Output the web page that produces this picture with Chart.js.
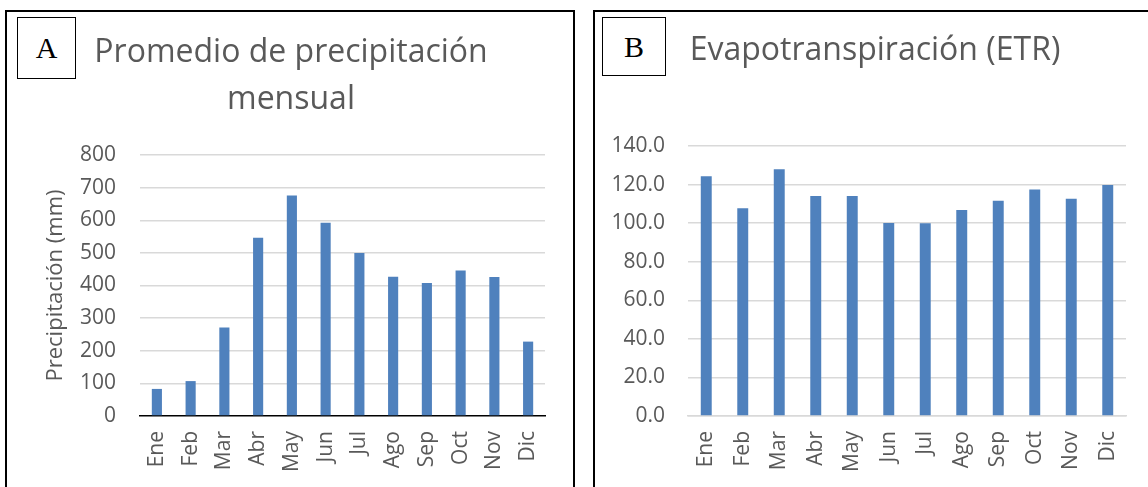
<!DOCTYPE html>
<html lang="es">
<head>
  <meta charset="UTF-8">
  <title>Precipitación y ETR</title>
  <script src="https://cdn.jsdelivr.net/npm/chart.js"></script>
  <style>
    html, body { margin: 0; padding: 0; background: #fff; overflow: hidden; }
    body { width: 1148px; height: 487px; position: relative; }
    .panel { position: absolute; top: 10px; height: 600px; border: 2px solid #000; box-sizing: border-box; }
    #panelA { left: 5px; width: 570px; }
    #panelB { left: 593px; width: 620px; }
    .tag {
      position: absolute; top: 17px; height: 62px; border: 1px solid #000; box-sizing: border-box;
      font-family: "Liberation Serif", serif; font-size: 30px; color: #000;
      display: flex; align-items: center; justify-content: center; background: #fff; z-index: 2;
    }
    #tagA { left: 17px; width: 59px; }
    #tagB { left: 602px; width: 64px; height: 59px; }
    canvas { position: absolute; top: 0; }
    #chartA { left: 6px; }
    #chartB { left: 594px; }
  </style>
</head>
<body>
  <div class="panel" id="panelA"></div>
  <div class="panel" id="panelB"></div>
  <div class="tag" id="tagA">A</div>
  <div class="tag" id="tagB">B</div>
  <canvas id="chartA" width="570" height="487" style="width:570px;height:487px"></canvas>
  <canvas id="chartB" width="562" height="487" style="width:562px;height:487px"></canvas>

  <script>
    const meses = ["Ene", "Feb", "Mar", "Abr", "May", "Jun", "Jul", "Ago", "Sep", "Oct", "Nov", "Dic"];
    const precipitacion = [83, 107, 271, 546, 676, 592, 500, 427, 408, 446, 426, 228];
    const etr = [124.3, 107.7, 127.9, 114.1, 114.1, 100.1, 99.9, 106.8, 111.6, 117.5, 112.7, 119.8];

    const gris = "#595959";
    const azul = "#4f81bd";
    const fuente = "'Open Sans', sans-serif";

    function xScale(borderColor) {
      return {
        grid: { display: false, drawTicks: false },
        border: { display: true, color: borderColor, width: 1.5 },
        ticks: {
          color: gris, font: { family: fuente, size: 21 },
          minRotation: 90, maxRotation: 90, autoSkip: false, padding: 15
        },
        afterFit: s => { s.height = 71; }
      };
    }

    // panel A
    new Chart(document.getElementById("chartA"), {
      type: "bar",
      data: {
        labels: meses,
        datasets: [{ data: precipitacion, backgroundColor: azul, barPercentage: 0.3, categoryPercentage: 1 }]
      },
      options: {
        responsive: false,
        animation: false,
        layout: { padding: { left: 31, right: 31, top: 0, bottom: 0 } },
        plugins: {
          legend: { display: false },
          tooltip: { enabled: false },
          title: {
            display: true,
            text: ["Promedio de precipitación", "mensual"],
            color: gris,
            font: { family: fuente, size: 32, weight: "normal", lineHeight: 47 / 32 },
            padding: { top: 29, bottom: 32 }
          }
        },
        scales: {
          x: xScale("#000"),
          y: {
            min: 0, max: 800,
            grid: {
              drawTicks: false, lineWidth: 1.5,
              color: c => c.tick && c.tick.value === 0 ? "rgba(0,0,0,0)" : "#d9d9d9"
            },
            border: { display: false },
            ticks: { stepSize: 100, color: gris, font: { family: fuente, size: 21 }, padding: 24 },
            title: {
              display: true, text: "Precipitación (mm)", color: gris,
              font: { family: fuente, size: 22 }, padding: { top: 6, bottom: 0 }
            },
            afterFit: s => { s.width = 103; }
          }
        }
      }
    });

    // panel B
    new Chart(document.getElementById("chartB"), {
      type: "bar",
      data: {
        labels: meses,
        datasets: [{ data: etr, backgroundColor: azul, barPercentage: 0.3, categoryPercentage: 1 }]
      },
      options: {
        responsive: false,
        animation: false,
        layout: { padding: 0 },
        plugins: {
          legend: { display: false },
          tooltip: { enabled: false },
          title: {
            display: true,
            text: "Evapotranspiración (ETR)",
            color: gris,
            font: { family: fuente, size: 32, weight: "normal", lineHeight: 47 / 32 },
            padding: { top: 27.5, bottom: 71.5 }
          }
        },
        scales: {
          x: xScale("#d9d9d9"),
          y: {
            min: 0, max: 140,
            grid: { drawTicks: false, lineWidth: 1.5, color: "#d9d9d9" },
            border: { display: false },
            ticks: {
              stepSize: 20, color: gris, font: { family: fuente, size: 21 }, padding: 23,
              callback: v => v.toFixed(1)
            },
            afterFit: s => { s.width = 94; }
          },
          // empty right margin so the title stays centred on the panel
          margen: {
            position: "right",
            grid: { display: false, drawTicks: false },
            border: { display: false },
            ticks: { display: false },
            afterFit: s => { s.width = 30; }
          }
        }
      }
    });
  </script>
</body>
</html>
